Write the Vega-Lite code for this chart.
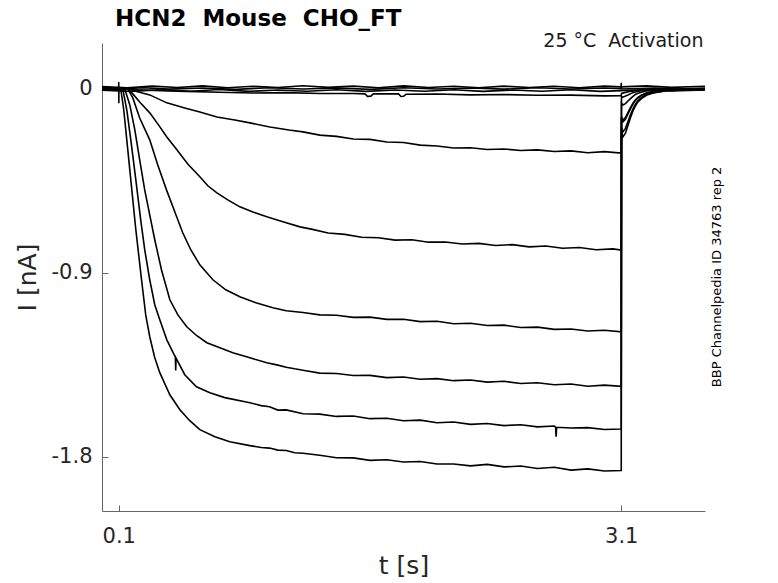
{
  "$schema": "https://vega.github.io/schema/vega-lite/v6.json",
  "width": 603,
  "height": 468,
  "autosize": "none",
  "padding": {"left": 102, "top": 43, "right": 73, "bottom": 72},
  "background": "white",
  "config": {"font": "DejaVu Sans", "view": {"stroke": null}},
  "title": {
    "text": "HCN2\u00a0\u00a0Mouse\u00a0\u00a0CHO_FT",
    "anchor": "start", "frame": "group", "dx": 13, "dy": 23, "offset": 6,
    "baseline": "alphabetic", "fontSize": 23, "fontWeight": "bold",
    "color": "#000000", "font": "DejaVu Sans"
  },
  "layer": [
    {
      "data": {"values": [
        {"s":"z1","t":0,"I":0.012},{"s":"z1","t":0.15,"I":0.006},{"s":"z1","t":0.3,"I":0.014},{"s":"z1","t":0.45,"I":0.007},{"s":"z1","t":0.6,"I":0.015},{"s":"z1","t":0.75,"I":0.006},{"s":"z1","t":0.9,"I":0.013},{"s":"z1","t":1.05,"I":0.007},{"s":"z1","t":1.2,"I":0.016},{"s":"z1","t":1.35,"I":0.008},{"s":"z1","t":1.5,"I":0.014},{"s":"z1","t":1.65,"I":0.006},{"s":"z1","t":1.8,"I":0.015},{"s":"z1","t":1.95,"I":0.007},{"s":"z1","t":2.1,"I":0.013},{"s":"z1","t":2.25,"I":0.006},{"s":"z1","t":2.4,"I":0.014},{"s":"z1","t":2.55,"I":0.007},{"s":"z1","t":2.7,"I":0.013},{"s":"z1","t":2.85,"I":0.006},{"s":"z1","t":3.0,"I":0.014},{"s":"z1","t":3.1,"I":0.010},{"s":"z1","t":3.25,"I":0.015},{"s":"z1","t":3.4,"I":0.008},{"s":"z1","t":3.6,"I":0.013},
        {"s":"z2","t":0,"I":0.003},{"s":"z2","t":0.099,"I":0.002},{"s":"z2","t":0.1,"I":0.034},{"s":"z2","t":0.1005,"I":-0.070},{"s":"z2","t":0.101,"I":0.0},{"s":"z2","t":0.25,"I":0.006},{"s":"z2","t":0.4,"I":-0.001},{"s":"z2","t":0.6,"I":0.005},{"s":"z2","t":0.8,"I":-0.002},{"s":"z2","t":1.0,"I":0.006},{"s":"z2","t":1.2,"I":0.0},{"s":"z2","t":1.4,"I":0.005},{"s":"z2","t":1.6,"I":-0.002},{"s":"z2","t":1.8,"I":0.006},{"s":"z2","t":2.0,"I":0.0},{"s":"z2","t":2.2,"I":0.005},{"s":"z2","t":2.4,"I":-0.001},{"s":"z2","t":2.6,"I":0.006},{"s":"z2","t":2.8,"I":0.0},{"s":"z2","t":3.0,"I":0.005},{"s":"z2","t":3.099,"I":0.002},{"s":"z2","t":3.1,"I":0.030},{"s":"z2","t":3.1005,"I":0.0},{"s":"z2","t":3.3,"I":0.005},{"s":"z2","t":3.45,"I":-0.001},{"s":"z2","t":3.6,"I":0.004},
        {"s":"z3","t":0,"I":-0.006},{"s":"z3","t":0.175,"I":-0.012},{"s":"z3","t":0.35,"I":-0.004},{"s":"z3","t":0.525,"I":-0.011},{"s":"z3","t":0.7,"I":-0.003},{"s":"z3","t":0.875,"I":-0.012},{"s":"z3","t":1.05,"I":-0.005},{"s":"z3","t":1.225,"I":-0.011},{"s":"z3","t":1.4,"I":-0.004},{"s":"z3","t":1.575,"I":-0.012},{"s":"z3","t":1.75,"I":-0.005},{"s":"z3","t":1.925,"I":-0.011},{"s":"z3","t":2.1,"I":-0.004},{"s":"z3","t":2.275,"I":-0.012},{"s":"z3","t":2.45,"I":-0.005},{"s":"z3","t":2.625,"I":-0.011},{"s":"z3","t":2.8,"I":-0.004},{"s":"z3","t":2.975,"I":-0.012},{"s":"z3","t":3.1,"I":-0.008},{"s":"z3","t":3.25,"I":-0.003},{"s":"z3","t":3.4,"I":-0.010},{"s":"z3","t":3.6,"I":-0.005},
        {"s":"T2","t":0,"I":0.002},{"s":"T2","t":0.1,"I":0.0},{"s":"T2","t":0.2,"I":-0.004},{"s":"T2","t":0.35,"I":-0.008},{"s":"T2","t":0.5,"I":-0.012},{"s":"T2","t":0.7,"I":-0.016},{"s":"T2","t":0.9,"I":-0.020},{"s":"T2","t":1.1,"I":-0.018},{"s":"T2","t":1.3,"I":-0.022},{"s":"T2","t":1.5,"I":-0.022},{"s":"T2","t":1.57,"I":-0.024},{"s":"T2","t":1.585,"I":-0.036},{"s":"T2","t":1.605,"I":-0.035},{"s":"T2","t":1.62,"I":-0.024},{"s":"T2","t":1.77,"I":-0.024},{"s":"T2","t":1.785,"I":-0.037},{"s":"T2","t":1.80,"I":-0.036},{"s":"T2","t":1.815,"I":-0.026},{"s":"T2","t":2.0,"I":-0.025},{"s":"T2","t":2.2,"I":-0.029},{"s":"T2","t":2.4,"I":-0.027},{"s":"T2","t":2.6,"I":-0.031},{"s":"T2","t":2.8,"I":-0.030},{"s":"T2","t":3.0,"I":-0.034},{"s":"T2","t":3.1,"I":-0.033},{"s":"T2","t":3.1015,"I":-0.022},{"s":"T2","t":3.15,"I":-0.012},{"s":"T2","t":3.25,"I":-0.004},{"s":"T2","t":3.6,"I":0.0},
        {"s":"T3","t":0,"I":-0.002},{"s":"T3","t":0.1,"I":0.001},{"s":"T3","t":0.166,"I":0.0},{"s":"T3","t":0.196,"I":-0.010},{"s":"T3","t":0.285,"I":-0.029},{"s":"T3","t":0.387,"I":-0.068},{"s":"T3","t":0.494,"I":-0.093},{"s":"T3","t":0.584,"I":-0.113},{"s":"T3","t":0.686,"I":-0.137},{"s":"T3","t":0.793,"I":-0.152},{"s":"T3","t":0.883,"I":-0.166},{"s":"T3","t":1.002,"I":-0.186},{"s":"T3","t":1.116,"I":-0.201},{"s":"T3","t":1.2,"I":-0.210},{"s":"T3","t":1.3,"I":-0.226},{"s":"T3","t":1.4,"I":-0.232},{"s":"T3","t":1.5,"I":-0.245},{"s":"T3","t":1.6,"I":-0.247},{"s":"T3","t":1.7,"I":-0.260},{"s":"T3","t":1.8,"I":-0.262},{"s":"T3","t":1.9,"I":-0.275},{"s":"T3","t":2.0,"I":-0.279},{"s":"T3","t":2.1,"I":-0.289},{"s":"T3","t":2.2,"I":-0.288},{"s":"T3","t":2.3,"I":-0.296},{"s":"T3","t":2.4,"I":-0.294},{"s":"T3","t":2.5,"I":-0.301},{"s":"T3","t":2.6,"I":-0.298},{"s":"T3","t":2.7,"I":-0.306},{"s":"T3","t":2.8,"I":-0.303},{"s":"T3","t":2.9,"I":-0.312},{"s":"T3","t":3.0,"I":-0.307},{"s":"T3","t":3.1,"I":-0.314},{"s":"T3","t":3.1015,"I":-0.036},{"s":"T3","t":3.11,"I":-0.040},{"s":"T3","t":3.14,"I":-0.030},{"s":"T3","t":3.17,"I":-0.018},{"s":"T3","t":3.2,"I":-0.011},{"s":"T3","t":3.25,"I":-0.005},{"s":"T3","t":3.37,"I":-0.002},{"s":"T3","t":3.6,"I":0.0},
        {"s":"T4","t":0,"I":0.004},{"s":"T4","t":0.1,"I":0.002},{"s":"T4","t":0.154,"I":0.0},{"s":"T4","t":0.184,"I":-0.024},{"s":"T4","t":0.225,"I":-0.064},{"s":"T4","t":0.285,"I":-0.117},{"s":"T4","t":0.333,"I":-0.171},{"s":"T4","t":0.387,"I":-0.235},{"s":"T4","t":0.447,"I":-0.298},{"s":"T4","t":0.512,"I":-0.367},{"s":"T4","t":0.584,"I":-0.430},{"s":"T4","t":0.632,"I":-0.474},{"s":"T4","t":0.686,"I":-0.509},{"s":"T4","t":0.751,"I":-0.543},{"s":"T4","t":0.823,"I":-0.577},{"s":"T4","t":0.901,"I":-0.602},{"s":"T4","t":0.984,"I":-0.626},{"s":"T4","t":1.080,"I":-0.650},{"s":"T4","t":1.182,"I":-0.675},{"s":"T4","t":1.25,"I":-0.686},{"s":"T4","t":1.35,"I":-0.705},{"s":"T4","t":1.45,"I":-0.712},{"s":"T4","t":1.55,"I":-0.726},{"s":"T4","t":1.65,"I":-0.728},{"s":"T4","t":1.75,"I":-0.740},{"s":"T4","t":1.85,"I":-0.738},{"s":"T4","t":1.95,"I":-0.750},{"s":"T4","t":2.05,"I":-0.749},{"s":"T4","t":2.15,"I":-0.759},{"s":"T4","t":2.25,"I":-0.756},{"s":"T4","t":2.35,"I":-0.766},{"s":"T4","t":2.45,"I":-0.762},{"s":"T4","t":2.55,"I":-0.773},{"s":"T4","t":2.65,"I":-0.769},{"s":"T4","t":2.75,"I":-0.780},{"s":"T4","t":2.85,"I":-0.776},{"s":"T4","t":2.95,"I":-0.787},{"s":"T4","t":3.05,"I":-0.783},{"s":"T4","t":3.1,"I":-0.789},{"s":"T4","t":3.1015,"I":-0.070},{"s":"T4","t":3.11,"I":-0.078},{"s":"T4","t":3.125,"I":-0.072},{"s":"T4","t":3.14,"I":-0.059},{"s":"T4","t":3.155,"I":-0.047},{"s":"T4","t":3.17,"I":-0.036},{"s":"T4","t":3.185,"I":-0.027},{"s":"T4","t":3.2,"I":-0.021},{"s":"T4","t":3.22,"I":-0.016},{"s":"T4","t":3.25,"I":-0.010},{"s":"T4","t":3.29,"I":-0.007},{"s":"T4","t":3.37,"I":-0.003},{"s":"T4","t":3.48,"I":-0.002},{"s":"T4","t":3.6,"I":-0.001},
        {"s":"T5","t":0,"I":-0.003},{"s":"T5","t":0.1,"I":0.0},{"s":"T5","t":0.154,"I":0.0},{"s":"T5","t":0.184,"I":-0.044},{"s":"T5","t":0.225,"I":-0.142},{"s":"T5","t":0.285,"I":-0.249},{"s":"T5","t":0.333,"I":-0.372},{"s":"T5","t":0.385,"I":-0.494},{"s":"T5","t":0.435,"I":-0.602},{"s":"T5","t":0.482,"I":-0.704},{"s":"T5","t":0.530,"I":-0.787},{"s":"T5","t":0.584,"I":-0.861},{"s":"T5","t":0.662,"I":-0.934},{"s":"T5","t":0.739,"I":-0.983},{"s":"T5","t":0.823,"I":-1.017},{"s":"T5","t":0.919,"I":-1.047},{"s":"T5","t":1.020,"I":-1.071},{"s":"T5","t":1.1,"I":-1.086},{"s":"T5","t":1.2,"I":-1.094},{"s":"T5","t":1.3,"I":-1.106},{"s":"T5","t":1.4,"I":-1.108},{"s":"T5","t":1.5,"I":-1.118},{"s":"T5","t":1.6,"I":-1.117},{"s":"T5","t":1.7,"I":-1.128},{"s":"T5","t":1.8,"I":-1.127},{"s":"T5","t":1.9,"I":-1.139},{"s":"T5","t":2.0,"I":-1.137},{"s":"T5","t":2.1,"I":-1.149},{"s":"T5","t":2.2,"I":-1.147},{"s":"T5","t":2.3,"I":-1.158},{"s":"T5","t":2.4,"I":-1.156},{"s":"T5","t":2.5,"I":-1.168},{"s":"T5","t":2.6,"I":-1.166},{"s":"T5","t":2.7,"I":-1.177},{"s":"T5","t":2.8,"I":-1.175},{"s":"T5","t":2.9,"I":-1.185},{"s":"T5","t":3.0,"I":-1.181},{"s":"T5","t":3.1,"I":-1.189},{"s":"T5","t":3.1015,"I":-0.137},{"s":"T5","t":3.11,"I":-0.152},{"s":"T5","t":3.125,"I":-0.140},{"s":"T5","t":3.14,"I":-0.116},{"s":"T5","t":3.155,"I":-0.091},{"s":"T5","t":3.17,"I":-0.070},{"s":"T5","t":3.185,"I":-0.053},{"s":"T5","t":3.2,"I":-0.041},{"s":"T5","t":3.22,"I":-0.030},{"s":"T5","t":3.25,"I":-0.020},{"s":"T5","t":3.29,"I":-0.013},{"s":"T5","t":3.37,"I":-0.006},{"s":"T5","t":3.48,"I":-0.003},{"s":"T5","t":3.6,"I":-0.001},
        {"s":"T6","t":0,"I":0.006},{"s":"T6","t":0.1,"I":0.003},{"s":"T6","t":0.136,"I":0.0},{"s":"T6","t":0.166,"I":-0.078},{"s":"T6","t":0.196,"I":-0.200},{"s":"T6","t":0.225,"I":-0.347},{"s":"T6","t":0.255,"I":-0.494},{"s":"T6","t":0.285,"I":-0.616},{"s":"T6","t":0.315,"I":-0.738},{"s":"T6","t":0.355,"I":-0.885},{"s":"T6","t":0.405,"I":-1.032},{"s":"T6","t":0.453,"I":-1.106},{"s":"T6","t":0.506,"I":-1.164},{"s":"T6","t":0.566,"I":-1.208},{"s":"T6","t":0.626,"I":-1.242},{"s":"T6","t":0.704,"I":-1.267},{"s":"T6","t":0.781,"I":-1.291},{"s":"T6","t":0.883,"I":-1.316},{"s":"T6","t":0.984,"I":-1.340},{"s":"T6","t":1.05,"I":-1.352},{"s":"T6","t":1.1,"I":-1.362},{"s":"T6","t":1.15,"I":-1.370},{"s":"T6","t":1.2,"I":-1.377},{"s":"T6","t":1.3,"I":-1.391},{"s":"T6","t":1.4,"I":-1.393},{"s":"T6","t":1.5,"I":-1.403},{"s":"T6","t":1.6,"I":-1.402},{"s":"T6","t":1.7,"I":-1.413},{"s":"T6","t":1.8,"I":-1.410},{"s":"T6","t":1.9,"I":-1.421},{"s":"T6","t":2.0,"I":-1.418},{"s":"T6","t":2.1,"I":-1.428},{"s":"T6","t":2.2,"I":-1.425},{"s":"T6","t":2.3,"I":-1.435},{"s":"T6","t":2.4,"I":-1.431},{"s":"T6","t":2.5,"I":-1.442},{"s":"T6","t":2.6,"I":-1.438},{"s":"T6","t":2.7,"I":-1.448},{"s":"T6","t":2.8,"I":-1.444},{"s":"T6","t":2.9,"I":-1.455},{"s":"T6","t":3.0,"I":-1.450},{"s":"T6","t":3.1,"I":-1.456},{"s":"T6","t":3.1015,"I":-0.145},{"s":"T6","t":3.11,"I":-0.161},{"s":"T6","t":3.125,"I":-0.148},{"s":"T6","t":3.14,"I":-0.122},{"s":"T6","t":3.155,"I":-0.097},{"s":"T6","t":3.17,"I":-0.074},{"s":"T6","t":3.185,"I":-0.056},{"s":"T6","t":3.2,"I":-0.043},{"s":"T6","t":3.22,"I":-0.032},{"s":"T6","t":3.25,"I":-0.021},{"s":"T6","t":3.29,"I":-0.014},{"s":"T6","t":3.37,"I":-0.006},{"s":"T6","t":3.48,"I":-0.003},{"s":"T6","t":3.6,"I":-0.002},
        {"s":"T7","t":0,"I":-0.004},{"s":"T7","t":0.1,"I":0.001},{"s":"T7","t":0.124,"I":0.0},{"s":"T7","t":0.148,"I":-0.103},{"s":"T7","t":0.172,"I":-0.249},{"s":"T7","t":0.202,"I":-0.445},{"s":"T7","t":0.231,"I":-0.641},{"s":"T7","t":0.255,"I":-0.787},{"s":"T7","t":0.285,"I":-0.934},{"s":"T7","t":0.315,"I":-1.056},{"s":"T7","t":0.345,"I":-1.130},{"s":"T7","t":0.387,"I":-1.228},{"s":"T7","t":0.438,"I":-1.313},{"s":"T7","t":0.440,"I":-1.378},{"s":"T7","t":0.442,"I":-1.318},{"s":"T7","t":0.494,"I":-1.399},{"s":"T7","t":0.564,"I":-1.458},{"s":"T7","t":0.644,"I":-1.487},{"s":"T7","t":0.733,"I":-1.511},{"s":"T7","t":0.883,"I":-1.536},{"s":"T7","t":0.95,"I":-1.550},{"s":"T7","t":1.0,"I":-1.556},{"s":"T7","t":1.05,"I":-1.572},{"s":"T7","t":1.1,"I":-1.571},{"s":"T7","t":1.2,"I":-1.590},{"s":"T7","t":1.3,"I":-1.592},{"s":"T7","t":1.4,"I":-1.603},{"s":"T7","t":1.5,"I":-1.601},{"s":"T7","t":1.6,"I":-1.614},{"s":"T7","t":1.7,"I":-1.612},{"s":"T7","t":1.8,"I":-1.624},{"s":"T7","t":1.9,"I":-1.621},{"s":"T7","t":2.0,"I":-1.634},{"s":"T7","t":2.1,"I":-1.630},{"s":"T7","t":2.2,"I":-1.642},{"s":"T7","t":2.3,"I":-1.638},{"s":"T7","t":2.4,"I":-1.648},{"s":"T7","t":2.5,"I":-1.644},{"s":"T7","t":2.6,"I":-1.654},{"s":"T7","t":2.7,"I":-1.650},{"s":"T7","t":2.708,"I":-1.655},{"s":"T7","t":2.711,"I":-1.702},{"s":"T7","t":2.714,"I":-1.656},{"s":"T7","t":2.8,"I":-1.660},{"s":"T7","t":2.9,"I":-1.658},{"s":"T7","t":3.0,"I":-1.667},{"s":"T7","t":3.1,"I":-1.665},{"s":"T7","t":3.1015,"I":-0.189},{"s":"T7","t":3.11,"I":-0.210},{"s":"T7","t":3.125,"I":-0.193},{"s":"T7","t":3.14,"I":-0.160},{"s":"T7","t":3.155,"I":-0.126},{"s":"T7","t":3.17,"I":-0.097},{"s":"T7","t":3.185,"I":-0.074},{"s":"T7","t":3.2,"I":-0.057},{"s":"T7","t":3.22,"I":-0.042},{"s":"T7","t":3.25,"I":-0.027},{"s":"T7","t":3.29,"I":-0.018},{"s":"T7","t":3.37,"I":-0.008},{"s":"T7","t":3.48,"I":-0.004},{"s":"T7","t":3.6,"I":-0.002},
        {"s":"T8","t":0,"I":0.008},{"s":"T8","t":0.1,"I":0.004},{"s":"T8","t":0.112,"I":0.0},{"s":"T8","t":0.130,"I":-0.103},{"s":"T8","t":0.154,"I":-0.298},{"s":"T8","t":0.178,"I":-0.494},{"s":"T8","t":0.202,"I":-0.689},{"s":"T8","t":0.236,"I":-0.934},{"s":"T8","t":0.261,"I":-1.106},{"s":"T8","t":0.285,"I":-1.213},{"s":"T8","t":0.315,"I":-1.316},{"s":"T8","t":0.345,"I":-1.389},{"s":"T8","t":0.405,"I":-1.497},{"s":"T8","t":0.465,"I":-1.570},{"s":"T8","t":0.524,"I":-1.624},{"s":"T8","t":0.584,"I":-1.668},{"s":"T8","t":0.674,"I":-1.702},{"s":"T8","t":0.763,"I":-1.727},{"s":"T8","t":0.883,"I":-1.746},{"s":"T8","t":0.95,"I":-1.755},{"s":"T8","t":1.0,"I":-1.758},{"s":"T8","t":1.05,"I":-1.768},{"s":"T8","t":1.1,"I":-1.770},{"s":"T8","t":1.15,"I":-1.781},{"s":"T8","t":1.2,"I":-1.783},{"s":"T8","t":1.3,"I":-1.793},{"s":"T8","t":1.4,"I":-1.805},{"s":"T8","t":1.5,"I":-1.806},{"s":"T8","t":1.6,"I":-1.818},{"s":"T8","t":1.7,"I":-1.815},{"s":"T8","t":1.8,"I":-1.826},{"s":"T8","t":1.9,"I":-1.824},{"s":"T8","t":2.0,"I":-1.836},{"s":"T8","t":2.1,"I":-1.836},{"s":"T8","t":2.2,"I":-1.845},{"s":"T8","t":2.3,"I":-1.838},{"s":"T8","t":2.4,"I":-1.850},{"s":"T8","t":2.5,"I":-1.846},{"s":"T8","t":2.6,"I":-1.858},{"s":"T8","t":2.7,"I":-1.852},{"s":"T8","t":2.8,"I":-1.866},{"s":"T8","t":2.9,"I":-1.860},{"s":"T8","t":3.0,"I":-1.870},{"s":"T8","t":3.1,"I":-1.868},{"s":"T8","t":3.1015,"I":-0.212},{"s":"T8","t":3.11,"I":-0.235},{"s":"T8","t":3.125,"I":-0.216},{"s":"T8","t":3.14,"I":-0.179},{"s":"T8","t":3.155,"I":-0.141},{"s":"T8","t":3.17,"I":-0.108},{"s":"T8","t":3.185,"I":-0.082},{"s":"T8","t":3.2,"I":-0.063},{"s":"T8","t":3.22,"I":-0.047},{"s":"T8","t":3.25,"I":-0.031},{"s":"T8","t":3.29,"I":-0.020},{"s":"T8","t":3.37,"I":-0.009},{"s":"T8","t":3.48,"I":-0.005},{"s":"T8","t":3.6,"I":-0.002}
      ]},
      "mark": {"type": "line", "color": "#000000", "strokeWidth": 1.6, "clip": true},
      "encoding": {
        "x": {
          "field": "t", "type": "quantitative",
          "scale": {"domain": [0, 3.6], "nice": false, "zero": false},
          "axis": {
            "values": [0.1, 3.1], "labelExpr": "'' + datum.value",
            "title": "t [s]", "grid": false,
            "domainColor": "#666666", "tickColor": "#666666", "tickSize": -6,
            "labelPadding": 20, "labelFontSize": 21, "labelColor": "#262626",
            "labelFont": "DejaVu Sans", "labelFlush": false,
            "titleFont": "DejaVu Sans", "titleFontSize": 25, "titleFontWeight": "normal",
            "titleColor": "#262626", "titleY": 62, "titleBaseline": "alphabetic"
          }
        },
        "y": {
          "field": "I", "type": "quantitative",
          "scale": {"domain": [-2.066, 0.225], "nice": false, "zero": false},
          "axis": {
            "values": [-1.8, -0.9, 0], "labelExpr": "'' + datum.value",
            "title": "I [nA]", "grid": false,
            "domainColor": "#666666", "tickColor": "#666666", "tickSize": -6,
            "labelPadding": 16, "labelFontSize": 21, "labelColor": "#262626",
            "labelFont": "DejaVu Sans",
            "titleFont": "DejaVu Sans", "titleFontSize": 25, "titleFontWeight": "normal",
            "titleColor": "#262626", "titleX": -67, "titleY": 234,
            "titleAngle": 270, "titleAlign": "center", "titleBaseline": "alphabetic"
          }
        },
        "detail": {"field": "s", "type": "nominal"}
      }
    },
    {
      "data": {"values": [{}]},
      "mark": {"type": "text", "align": "right", "baseline": "alphabetic", "dx": -1.5,
               "fontSize": 19, "font": "DejaVu Sans", "color": "#1a1a1a",
               "text": "25 °C\u00a0\u00a0Activation"},
      "encoding": {
        "x": {"datum": 3.6, "type": "quantitative", "scale": {"domain": [0, 3.6], "nice": false, "zero": false}},
        "y": {"datum": 0.204, "type": "quantitative", "scale": {"domain": [-2.066, 0.225], "nice": false, "zero": false}}
      }
    },
    {
      "data": {"values": [{}]},
      "mark": {"type": "text", "align": "center", "baseline": "alphabetic", "angle": 270,
               "fontSize": 13, "font": "DejaVu Sans", "color": "#000000",
               "text": "BBP Channelpedia ID 34763 rep 2"},
      "encoding": {
        "x": {"datum": 3.698, "type": "quantitative", "scale": {"domain": [0, 3.6], "nice": false, "zero": false}},
        "y": {"datum": -0.92, "type": "quantitative", "scale": {"domain": [-2.066, 0.225], "nice": false, "zero": false}}
      }
    }
  ]
}
